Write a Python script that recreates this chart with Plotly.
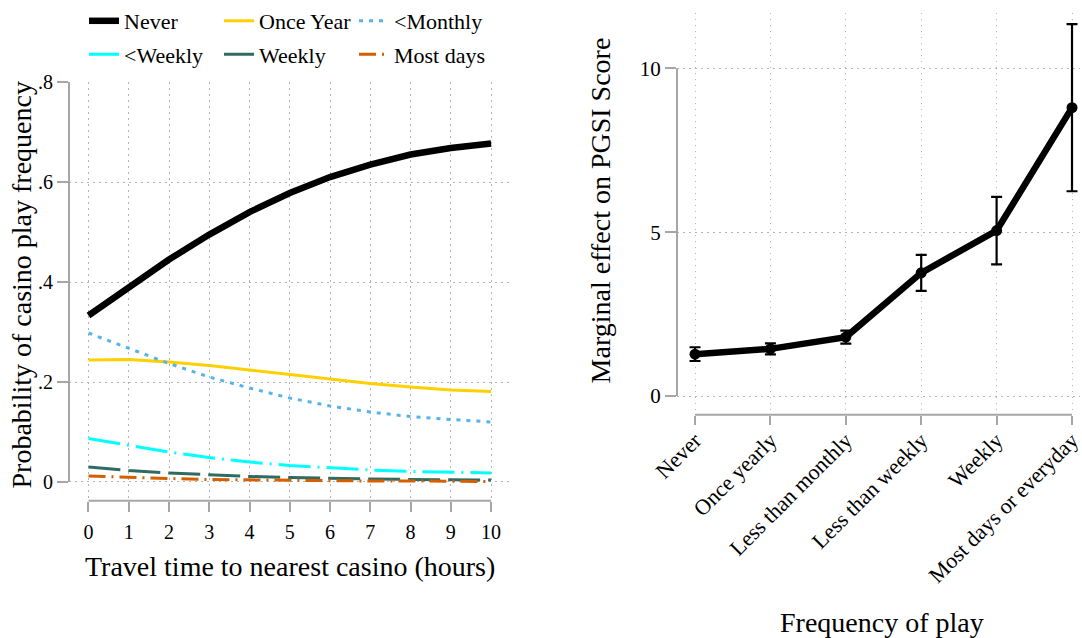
import plotly.graph_objects as go

# ---------------- data ----------------
hours = [0, 1, 2, 3, 4, 5, 6, 7, 8, 9, 10]
p_never = [0.333, 0.390, 0.445, 0.495, 0.540, 0.578, 0.610, 0.635, 0.655, 0.668, 0.677]
p_once_year = [0.244, 0.245, 0.240, 0.233, 0.224, 0.215, 0.206, 0.197, 0.190, 0.184, 0.181]
p_lt_monthly = [0.298, 0.268, 0.237, 0.210, 0.188, 0.168, 0.152, 0.140, 0.131, 0.125, 0.120]
p_lt_weekly = [0.087, 0.073, 0.060, 0.049, 0.040, 0.033, 0.028, 0.024, 0.021, 0.019, 0.018]
p_weekly = [0.030, 0.023, 0.018, 0.014, 0.011, 0.009, 0.007, 0.006, 0.005, 0.005, 0.004]
p_most_days = [0.012, 0.009, 0.007, 0.005, 0.004, 0.003, 0.003, 0.002, 0.002, 0.002, 0.001]

left_yticks = [0, 0.2, 0.4, 0.6, 0.8]
left_yticktext = ["0", ".2", ".4", ".6", ".8"]

play_freq = ["Never", "Once yearly", "Less than monthly", "Less than weekly",
             "Weekly", "Most days or everyday"]
pgsi_effect = [1.28, 1.44, 1.80, 3.76, 5.05, 8.80]
pgsi_ci = [0.21, 0.17, 0.20, 0.55, 1.03, 2.55]
right_yticks = [0, 5, 10]

# ---------------- style ----------------
FONT = "Liberation Serif"
AX_GRAY = "#A6A6A6"
GRID = "#B4B4B4"
W, H = 1082, 638

series = [
    ("Never", p_never, dict(color="black", width=6.5, dash="solid"), "legend"),
    ("Once Year", p_once_year, dict(color="#FFD000", width=3, dash="solid"), "legend"),
    ("<Monthly", p_lt_monthly, dict(color="#56B4E9", width=3, dash="4px,6px"), "legend"),
    ("<Weekly", p_lt_weekly, dict(color="#00FFFF", width=3, dash="32px,7px,2px,7px"), "legend2"),
    ("Weekly", p_weekly, dict(color="#2F6B62", width=3, dash="32px,8px"), "legend2"),
    ("Most days", p_most_days, dict(color="#D55E00", width=3, dash="17px,6px,2px,6px"), "legend2"),
]

fig = go.Figure()
for name, vals, line, leg in series:
    fig.add_trace(go.Scatter(x=hours, y=vals, mode="lines", name=name, line=line,
                             xaxis="x", yaxis="y", legend=leg))

fig.add_trace(go.Scatter(
    x=play_freq, y=pgsi_effect, mode="lines+markers", showlegend=False,
    line=dict(color="black", width=6.5),
    marker=dict(color="black", size=11),
    error_y=dict(type="data", array=pgsi_ci, visible=True, color="black",
                 thickness=2.2, width=5.5),
    xaxis="x2", yaxis="y2"))

def px_x(px):
    return px / W

def px_y(py):
    return 1 - py / H

common_axis = dict(showline=False, zeroline=False, automargin=False,
                   ticks="outside", tickcolor=AX_GRAY, tickwidth=2,
                   showgrid=True, gridcolor=GRID, griddash="1.5px,4.5px", gridwidth=1,
                   color="black")

legend_common = dict(orientation="h", xanchor="left", yanchor="middle",
                     entrywidth=90, entrywidthmode="pixels", font=dict(size=22),
                     bgcolor="rgba(0,0,0,0)", itemwidth=30, traceorder="normal")

fig.update_layout(
    width=W, height=H, template="none",
    paper_bgcolor="white", plot_bgcolor="white",
    margin=dict(l=0, r=0, t=0, b=0),
    font=dict(family=FONT, color="black", size=20),
    xaxis=dict(domain=[px_x(69), px_x(510)], range=[-0.484, 10.47],
               tickvals=hours, ticklen=10, tickfont=dict(size=20),
               ticklabelstandoff=3, anchor="y", **common_axis),
    yaxis=dict(domain=[px_y(499), px_y(75)], range=[-0.0375, 0.8],
               tickvals=left_yticks, ticktext=left_yticktext, ticklen=11,
               tickfont=dict(size=20), anchor="x", **common_axis),
    xaxis2=dict(domain=[px_x(677), px_x(1080)], range=[-0.239, 5.106],
                type="category", ticklen=9, tickangle=-45,
                tickfont=dict(size=22), ticklabelstandoff=-6,
                anchor="y2", **common_axis),
    yaxis2=dict(domain=[px_y(412), px_y(5)], range=[-0.572, 11.69],
                tickvals=right_yticks, ticklen=11, tickfont=dict(size=21),
                anchor="x2", **common_axis),
    legend=dict(x=px_x(84), y=px_y(13), **legend_common),
    legend2=dict(x=px_x(84), y=px_y(47), **legend_common),
    showlegend=True,
)

# axis lines spanning only the tick range (Stata style)
line_style = dict(color=AX_GRAY, width=2)
fig.add_shape(type="line", xref="x domain", x0=0, x1=0, yref="y",
              y0=left_yticks[0], y1=left_yticks[-1], line=line_style)
fig.add_shape(type="line", xref="x", x0=hours[0], x1=hours[-1], yref="y domain",
              y0=0, y1=0, line=line_style)
fig.add_shape(type="line", xref="x2 domain", x0=0, x1=0, yref="y2",
              y0=right_yticks[0], y1=right_yticks[-1], line=line_style)
fig.add_shape(type="line", xref="x2", x0=0, x1=len(play_freq) - 1, yref="y2 domain",
              y0=0, y1=0, line=line_style)

# axis titles
title_font = dict(family=FONT, size=28, color="black")
fig.add_annotation(text="Probability of casino play frequency", xref="paper", yref="paper",
                   x=px_x(21), y=px_y(281), textangle=-90, showarrow=False,
                   font=title_font, xanchor="center", yanchor="middle")
fig.add_annotation(text="Travel time to nearest casino (hours)", xref="paper", yref="paper",
                   x=px_x(290), y=px_y(566), showarrow=False, font=title_font,
                   xanchor="center", yanchor="middle")
fig.add_annotation(text="Marginal effect on PGSI Score", xref="paper", yref="paper",
                   x=px_x(600), y=px_y(205), textangle=-90, showarrow=False,
                   font=title_font, xanchor="center", yanchor="middle")
fig.add_annotation(text="Frequency of play", xref="paper", yref="paper",
                   x=px_x(882), y=px_y(622), showarrow=False, font=title_font,
                   xanchor="center", yanchor="middle")

fig.write_html("out.html", config={"displayModeBar": False},
               post_script="document.body.style.margin='0px';document.body.style.overflow='hidden';")
